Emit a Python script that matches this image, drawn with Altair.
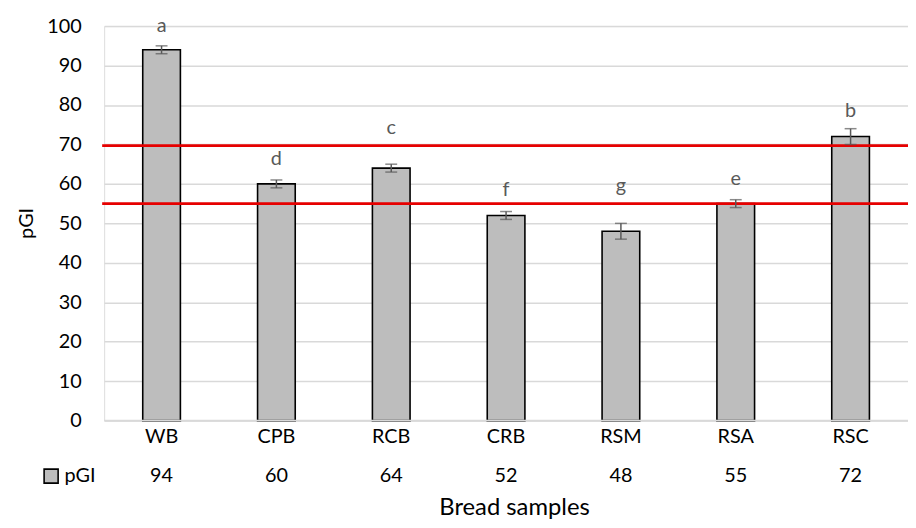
import altair as alt
import pandas as pd

categories = ["WB", "CPB", "RCB", "CRB", "RSM", "RSA", "RSC"]
values = [94, 60, 64, 52, 48, 55, 72]
errors = [1, 1, 1, 1, 2, 1, 2]
letters = ["a", "d", "c", "f", "g", "e", "b"]
letter_pos = [98.5, 64.7, 72.7, 57.0, 57.9, 59.7, 76.9]
ref_lines = [69.7, 55]
series_name = "pGI"
y_ticks = list(range(0, 101, 10))

FONT = "Lato"
W, H = 811, 398

df = pd.DataFrame({
    "cat": categories,
    "val": values,
    "lo": [v - e for v, e in zip(values, errors)],
    "hi": [v + e for v, e in zip(values, errors)],
    "letter": letters,
    "lpos": letter_pos,
})
ref_df = pd.DataFrame({"ref": ref_lines})
leg_df = pd.DataFrame({"name": [series_name]})

x = alt.X("cat:N", sort=categories,
          scale=alt.Scale(paddingInner=0, paddingOuter=0),
          axis=None)
yscale = alt.Scale(domain=[0, 100], nice=False)
yaxis = alt.Axis(values=y_ticks, title=None, ticks=False, domain=False,
                 labelFont=FONT, labelFontSize=20, labelColor="#000000",
                 labelOverlap=False, labelPadding=23,
                 gridColor="#d9d9d9", gridWidth=1.5)


def Y(field):
    return alt.Y(field, scale=yscale, axis=yaxis)


base = alt.Chart(df)

bars = base.mark_bar(size=38, fill="#bdbdbd", stroke="#000000", strokeWidth=1.6).encode(
    x=x, y=Y("val:Q"))

err_rule = base.mark_rule(color="#595959", strokeWidth=1.5).encode(
    x=x, y=Y("lo:Q"), y2="hi:Q")
cap_hi = base.mark_tick(color="#595959", size=12, thickness=1.5).encode(
    x=x, y=Y("hi:Q"))
cap_lo = base.mark_tick(color="#595959", size=12, thickness=1.5).encode(
    x=x, y=Y("lo:Q"))

letter_text = base.mark_text(font=FONT, fontSize=20, color="#595959",
                             baseline="alphabetic", align="center").encode(
    x=x, y=Y("lpos:Q"), text="letter:N")

red = alt.Chart(ref_df).mark_rule(color="#e60000", strokeWidth=2.8).encode(
    y=Y("ref:Q"), x=alt.value(-2), x2=alt.value(W + 10))

zero_line = alt.Chart(pd.DataFrame({"z": [0]})).mark_rule(color="#d9d9d9", strokeWidth=1.5).encode(
    y=Y("z:Q"), x=alt.value(0), x2=alt.value(W))

cat_text = base.mark_text(font=FONT, fontSize=20, color="#000000", baseline="middle").encode(
    x=x, y=alt.value(H + 16.5), text="cat:N")
val_text = base.mark_text(font=FONT, fontSize=20, color="#000000", baseline="middle").encode(
    x=x, y=alt.value(H + 56), text="val:Q")

leg_sq = alt.Chart(leg_df).mark_square(size=200, fill="#bdbdbd", stroke="#000000",
                                       strokeWidth=1.6, opacity=1).encode(
    x=alt.value(-53.5), y=alt.value(H + 56))
leg_txt = alt.Chart(leg_df).mark_text(font=FONT, fontSize=20, color="#000000",
                                      align="left", baseline="middle").encode(
    x=alt.value(-40), y=alt.value(H + 56), text="name:N")

y_title = alt.Chart(pd.DataFrame({"t": ["pGI"]})).mark_text(
    font=FONT, fontSize=20, color="#000000", angle=270, align="center", baseline="middle").encode(
    x=alt.value(-78), y=alt.value(H / 2), text="t:N")
x_title = alt.Chart(pd.DataFrame({"t": ["Bread samples"]})).mark_text(
    font=FONT, fontSize=24, color="#000000", align="center", baseline="alphabetic").encode(
    x=alt.value(414), y=alt.value(H + 95), text="t:N")

chart = alt.layer(
    bars, zero_line, red, err_rule, cap_hi, cap_lo, letter_text,
    cat_text, val_text, leg_sq, leg_txt, y_title, x_title
).properties(
    width=W, height=H,
    autosize="none",
    padding={"left": 97, "top": 16, "right": 0, "bottom": 98},
).configure_view(stroke=None).configure(background="#ffffff")

chart.save("out.html", embed_options={"renderer": "svg", "actions": False})
